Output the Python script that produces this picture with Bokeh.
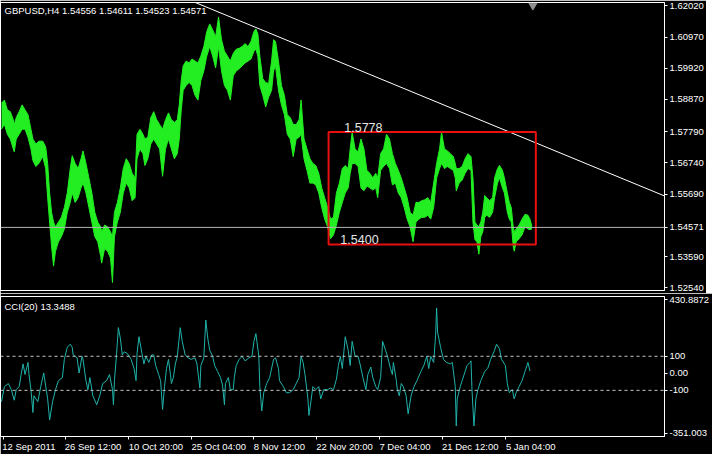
from bokeh.plotting import figure
from bokeh.layouts import column
from bokeh.models import Range1d, FixedTicker, Span, Label, NumeralTickFormatter, LinearAxis
from bokeh.embed import file_html
from bokeh.resources import INLINE

# ---------------- data (bar index = H4 bar number from 12 Sep 2011) ----------------
price_bars = [
    0, 3, 6, 9, 12, 13, 15, 18, 21, 24,
    27, 30, 32, 35, 38, 42, 45, 47, 49, 51,
    53, 55, 58, 61, 64, 67, 70, 72, 75, 78,
    81, 83, 86, 89, 92, 95, 98, 101, 102, 105,
    108, 111, 113, 115, 118, 121, 124, 127, 130, 133,
    136, 138, 141, 144, 146, 149, 152, 155, 158, 161,
    164, 167, 170, 173, 176, 179, 181, 183, 185, 188,
    191, 194, 197, 200, 203, 206, 209, 212, 215, 218,
    221, 224, 227, 230, 233, 236, 239, 242, 245, 248,
    251, 254, 257, 259, 261, 263, 266, 269, 272, 275,
    277, 279, 282, 285, 288, 291, 294, 297, 300, 303,
    305, 308, 311, 314, 317, 320, 323, 326, 329, 332,
    335, 338, 341, 344, 347, 350, 353, 355, 357, 360,
    363, 366, 369, 372, 375, 378, 381, 383, 386, 389,
    392, 395, 398, 401, 404, 407, 410, 413, 416, 419,
    422, 425, 428, 431, 434, 437, 440, 443, 446, 448,
    451, 454, 457, 460, 462, 463, 466, 469, 472, 475,
    478, 480, 482, 484, 486, 488, 490, 492, 494, 497,
    500, 502, 505, 507, 510, 512, 515, 517, 519, 521,
    522, 524, 527, 530, 533, 536, 538, 540,
]
price_high = [
    1.5875, 1.5885, 1.5852, 1.5846, 1.5819, 1.5803, 1.5826, 1.5846, 1.5869, 1.5852,
    1.5836, 1.5787, 1.5754, 1.5737, 1.5747, 1.5747, 1.5728, 1.5672, 1.5573, 1.5508,
    1.5475, 1.5459, 1.5475, 1.5491, 1.5524, 1.5573, 1.5655, 1.5698, 1.5672, 1.5655,
    1.5688, 1.5714, 1.5672, 1.5623, 1.5573, 1.5508, 1.5475, 1.5459, 1.5442, 1.5465,
    1.5459, 1.5442, 1.5426, 1.5508, 1.5541, 1.5590, 1.5655, 1.5688, 1.5672, 1.5639,
    1.5623, 1.5770, 1.5787, 1.5770, 1.5754, 1.5760, 1.5826, 1.5846, 1.5819, 1.5803,
    1.5787, 1.5819, 1.5842, 1.5819, 1.5810, 1.5819, 1.5869, 1.5951, 1.6000, 1.6016,
    1.6010, 1.6023, 1.6016, 1.6010, 1.6033, 1.6065, 1.6115, 1.6141, 1.6121, 1.6098,
    1.6164, 1.6088, 1.6049, 1.6033, 1.6016, 1.6042, 1.6056, 1.6059, 1.6065, 1.6075,
    1.6065, 1.6082, 1.6115, 1.6124, 1.6108, 1.6033, 1.5957, 1.5944, 1.5941, 1.6016,
    1.6088, 1.6082, 1.6016, 1.5934, 1.5901, 1.5836, 1.5826, 1.5803, 1.5803, 1.5819,
    1.5885, 1.5754, 1.5721, 1.5688, 1.5672, 1.5665, 1.5639, 1.5590, 1.5557, 1.5524,
    1.5485, 1.5491, 1.5573, 1.5606, 1.5655, 1.5665, 1.5655, 1.5721, 1.5777, 1.5721,
    1.5711, 1.5754, 1.5721, 1.5649, 1.5639, 1.5623, 1.5639, 1.5623, 1.5705, 1.5721,
    1.5770, 1.5754, 1.5705, 1.5672, 1.5649, 1.5623, 1.5590, 1.5557, 1.5508, 1.5498,
    1.5541, 1.5541, 1.5547, 1.5550, 1.5557, 1.5541, 1.5606, 1.5672, 1.5721, 1.5777,
    1.5721, 1.5714, 1.5705, 1.5695, 1.5672, 1.5655, 1.5655, 1.5662, 1.5688, 1.5705,
    1.5695, 1.5623, 1.5475, 1.5465, 1.5459, 1.5475, 1.5508, 1.5564, 1.5557, 1.5547,
    1.5557, 1.5623, 1.5655, 1.5665, 1.5649, 1.5623, 1.5573, 1.5541, 1.5524, 1.5459,
    1.5442, 1.5452, 1.5465, 1.5485, 1.5501, 1.5498, 1.5485, 1.5461,
]
price_low = [
    1.5787, 1.5803, 1.5770, 1.5754, 1.5721, 1.5711, 1.5754, 1.5770, 1.5787, 1.5787,
    1.5760, 1.5721, 1.5682, 1.5662, 1.5672, 1.5695, 1.5655, 1.5557, 1.5475, 1.5393,
    1.5327, 1.5377, 1.5409, 1.5426, 1.5452, 1.5508, 1.5541, 1.5573, 1.5541, 1.5557,
    1.5590, 1.5606, 1.5573, 1.5524, 1.5475, 1.5426, 1.5409, 1.5360, 1.5337, 1.5386,
    1.5377, 1.5354, 1.5272, 1.5426, 1.5475, 1.5508, 1.5573, 1.5606, 1.5590, 1.5547,
    1.5557, 1.5688, 1.5721, 1.5705, 1.5665, 1.5688, 1.5737, 1.5754, 1.5737, 1.5721,
    1.5629, 1.5721, 1.5754, 1.5721, 1.5688, 1.5705, 1.5754, 1.5852, 1.5918, 1.5934,
    1.5944, 1.5934, 1.5901, 1.5885, 1.5951, 1.5983, 1.6033, 1.6065, 1.6033, 1.5993,
    1.6065, 1.5983, 1.5934, 1.5918, 1.5885, 1.5967, 1.5983, 1.5990, 1.6000, 1.6010,
    1.6016, 1.6023, 1.6049, 1.6056, 1.6033, 1.5934, 1.5901, 1.5862, 1.5895, 1.5918,
    1.5983, 1.6000, 1.5918, 1.5869, 1.5836, 1.5770, 1.5754, 1.5695, 1.5754, 1.5760,
    1.5770, 1.5688, 1.5649, 1.5606, 1.5606, 1.5600, 1.5573, 1.5524, 1.5485, 1.5459,
    1.5419, 1.5432, 1.5465, 1.5508, 1.5541, 1.5573, 1.5590, 1.5639, 1.5672, 1.5672,
    1.5662, 1.5590, 1.5580, 1.5596, 1.5590, 1.5583, 1.5590, 1.5557, 1.5649, 1.5662,
    1.5672, 1.5655, 1.5600, 1.5606, 1.5573, 1.5557, 1.5524, 1.5485, 1.5459, 1.5409,
    1.5475, 1.5485, 1.5491, 1.5491, 1.5498, 1.5485, 1.5524, 1.5623, 1.5655, 1.5672,
    1.5655, 1.5662, 1.5655, 1.5649, 1.5623, 1.5580, 1.5606, 1.5616, 1.5639, 1.5655,
    1.5649, 1.5475, 1.5416, 1.5409, 1.5367, 1.5426, 1.5442, 1.5491, 1.5498, 1.5491,
    1.5508, 1.5557, 1.5606, 1.5623, 1.5590, 1.5573, 1.5508, 1.5485, 1.5475, 1.5393,
    1.5377, 1.5409, 1.5419, 1.5432, 1.5459, 1.5452, 1.5449, 1.5452,
]

cci_bars = [
    0, 3, 7, 10, 13, 15, 18, 20, 22, 24,
    27, 28, 30, 32, 33, 37, 40, 43, 47, 49,
    52, 55, 58, 62, 64, 67, 70, 72, 73, 77,
    79, 82, 83, 86, 88, 90, 93, 97, 100, 103,
    107, 110, 113, 114, 115, 117, 119, 121, 123, 125,
    128, 132, 135, 137, 138, 140, 143, 145, 147, 150,
    153, 155, 157, 160, 162, 164, 166, 168, 170, 172,
    173, 175, 177, 179, 182, 184, 187, 190, 193, 197,
    199, 202, 203, 206, 208, 210, 212, 215, 217, 220,
    223, 225, 227, 228, 231, 233, 236, 237, 239, 242,
    245, 248, 252, 255, 257, 259, 262, 263, 265, 267,
    270, 273, 277, 279, 282, 283, 287, 290, 293, 297,
    300, 303, 305, 307, 309, 312, 313, 315, 317, 320,
    323, 325, 328, 332, 335, 338, 341, 343, 345, 347,
    350, 353, 355, 357, 360, 363, 365, 368, 371, 373,
    376, 378, 381, 383, 386, 388, 391, 393, 396, 398,
    399, 402, 403, 405, 407, 409, 412, 414, 417, 420,
    423, 427, 430, 433, 435, 437, 440, 442, 443, 444,
    447, 450, 453, 457, 459, 462, 463, 464, 467, 469,
    472, 474, 477, 478, 479, 481, 483, 485, 488, 492,
    495, 498, 502, 504, 507, 509, 513, 515, 517, 520,
    522, 524, 527, 530, 533, 536, 538,
]
cci_values = [
    -167, -78, -60, -96, -158, -96, -78, -7, 55, -7,
    64, -7, -96, -230, -132, -167, -78, 2, -150, -274,
    -167, -96, -43, -25, 82, 153, 171, 153, 108, 91,
    2, 100, 82, -43, -96, -25, -132, -185, -132, -60,
    -43, -7, -96, -185, -43, 100, 268, 206, 108, 126,
    117, 82, 28, -43, 117, 215, 117, 55, 100, 64,
    108, 108, 46, -7, -43, -212, -78, 28, 82, -7,
    -60, -25, 55, 100, 268, 188, 108, 91, 82, 91,
    55, -87, 46, 91, 313, 206, 135, 100, 46, 11,
    -25, -69, -185, -60, -25, -96, -96, -25, 46, 82,
    100, 73, 91, 100, 188, 233, 100, -78, -221, -114,
    -60, -25, 82, 91, 28, -43, -78, -114, -114, -96,
    -60, -25, 100, 64, -7, -150, -247, -167, -78, -96,
    -78, -150, -96, -96, -87, -96, -34, 46, 100, 28,
    215, 135, 46, 188, 100, 100, 55, -25, -96, -7,
    37, -25, -78, -96, -25, 188, 135, 100, 28, -7,
    64, -43, -96, -132, -60, -78, -132, -238, -132, -78,
    -43, 11, 46, 100, 28, 100, 64, 224, 384, 242,
    153, 82, 64, 55, 64, -78, -309, -150, -78, -43,
    11, 46, 64, 73, -96, -309, -150, -96, -43, 11,
    28, 82, 135, 171, 144, 82, 46, -60, -114, -96,
    -150, -114, -78, -43, 11, 64, 13.3488,
]

price_ticks = [1.6202, 1.6097, 1.5992, 1.5887, 1.5779, 1.5674, 1.5569, 1.5359, 1.5254]
cci_ticks = [430.8872, 100, 0, -100, -351.003]
cci_tick_labels = ["430.8872", "100", "0.00", "-100", "-351.003"]
time_tick_bars = [2, 65, 129, 193, 257, 321, 385, 449, 513]
time_tick_labels = ["12 Sep 2011", "26 Sep 12:00", "10 Oct 20:00", "25 Oct 04:00",
                    "8 Nov 12:00", "22 Nov 20:00", "7 Dec 04:00", "21 Dec 12:00", "5 Jan 04:00"]

symbol = "GBPUSD,H4"
last_ohlc = [1.54556, 1.54611, 1.54523, 1.54571]
cci_period = 20
cci_last = 13.3488
cci_levels = [100, -100]

range_high = 1.5778
range_low = 1.5400
range_bars = [333, 544]
trend_bars = [190, 680]
trend_prices = [1.6223, 1.5556]
shift_marker_bar = 541

# ---------------- styling ----------------
FONT = "Liberation Sans"
FW = 664
X_END = 675
GREEN = "#22ee22"
CCI_COLOR = "#20b2aa"
AX_FS = "9.5px"


def style_axis(ax):
    ax.axis_line_color = "white"
    ax.major_tick_line_color = "white"
    ax.major_tick_in = 0
    ax.major_tick_out = 3
    ax.minor_tick_line_color = None
    ax.major_label_text_color = "white"
    ax.major_label_text_font = FONT
    ax.major_label_text_font_size = AX_FS
    ax.major_label_standoff = 2


def style_common(p):
    p.grid.visible = False
    p.outline_line_color = "white"
    p.outline_line_width = 1
    p.background_fill_color = "black"
    p.border_fill_color = "black"
    p.min_border_left = 0
    p.min_border_right = 0
    for ax in p.axis:
        style_axis(ax)


# main price panel
p = figure(frame_width=FW, frame_height=288,
           x_range=Range1d(-1, X_END), y_range=Range1d(1.5245, 1.6213),
           output_backend="svg", toolbar_location=None,
           y_axis_location="right", x_axis_location=None)
p.min_border_top = 2
p.min_border_bottom = 3
style_common(p)
# the current price is marked on the price scale as well
p.yaxis.ticker = FixedTicker(ticks=sorted(price_ticks + [last_ohlc[3]]))
p.yaxis.formatter = NumeralTickFormatter(format="0.00000")

p.varea(x=price_bars, y1=price_low, y2=price_high, fill_color=GREEN)
p.line(price_bars, price_high, line_color=GREEN, line_width=1)
p.line(price_bars, price_low, line_color=GREEN, line_width=1)

p.add_layout(Span(location=last_ohlc[3], dimension="width", line_color="#b4b4b4", line_width=1))
p.line(trend_bars, trend_prices, line_color="white", line_width=1)
p.quad(left=[range_bars[0]], right=[range_bars[1]], bottom=[range_low], top=[range_high],
       fill_color=None, line_color="#e81010", line_width=2)
p.text(x=[range_bars[0] + 16], y=[range_high], text=[f"{range_high:.4f}"],
       text_color="#e6e6e6", text_font_size="12.5px", text_baseline="bottom",
       text_font={"value": FONT})
p.text(x=[range_bars[0] + 12], y=[range_low], text=[f"{range_low:.4f}"],
       text_color="#e6e6e6", text_font_size="12.5px", text_baseline="bottom",
       text_font={"value": FONT})
p.scatter([shift_marker_bar], [1.6203], marker="inverted_triangle", size=8,
          fill_color="#909090", line_color="#909090")

p.add_layout(Label(x=4, y=286, x_units="screen", y_units="screen",
                   text=f"{symbol}  " + " ".join(f"{v:.5f}" for v in last_ohlc),
                   text_baseline="top", text_color="white", text_font=FONT,
                   text_font_size="9.5px"))

# CCI panel
q = figure(frame_width=FW, frame_height=140,
           x_range=p.x_range, y_range=Range1d(-371.0, 451.0),
           output_backend="svg", toolbar_location=None,
           y_axis_location="right", x_axis_location="below")
q.min_border_top = 3
q.min_border_bottom = 0
style_common(q)
q.yaxis.ticker = FixedTicker(ticks=cci_ticks)
q.yaxis.major_label_overrides = {t: s for t, s in zip(cci_ticks, cci_tick_labels)}

# tick marks of the time scale
q.xaxis.ticker = FixedTicker(ticks=time_tick_bars)
q.xaxis.major_label_overrides = {t: "" for t in time_tick_bars}
q.xaxis.major_label_text_font_size = "1px"
q.xaxis.major_label_standoff = 0
# time labels, written to the right of their tick as MT4 does
label_centers = [round(b + len(s) * 2.35, 2) for b, s in zip(time_tick_bars, time_tick_labels)]
lab_axis = LinearAxis(ticker=FixedTicker(ticks=label_centers),
                      major_label_overrides={c: s for c, s in zip(label_centers, time_tick_labels)})
style_axis(lab_axis)
lab_axis.axis_line_color = None
lab_axis.major_tick_line_color = None
lab_axis.major_tick_out = 0
lab_axis.major_label_standoff = 1
q.add_layout(lab_axis, "below")

for lv in cci_levels:
    q.add_layout(Span(location=lv, dimension="width", line_color="#c8c8c8",
                      line_width=1, line_dash="3 3"))
q.line(cci_bars, cci_values, line_color=CCI_COLOR, line_width=1)
q.add_layout(Label(x=4, y=136, x_units="screen", y_units="screen",
                   text=f"CCI({cci_period}) {cci_last:.4f}", text_baseline="top",
                   text_color="white", text_font=FONT, text_font_size="9.5px"))

layout = column(p, q, spacing=0)
open("out.html", "w").write(file_html(layout, INLINE))
